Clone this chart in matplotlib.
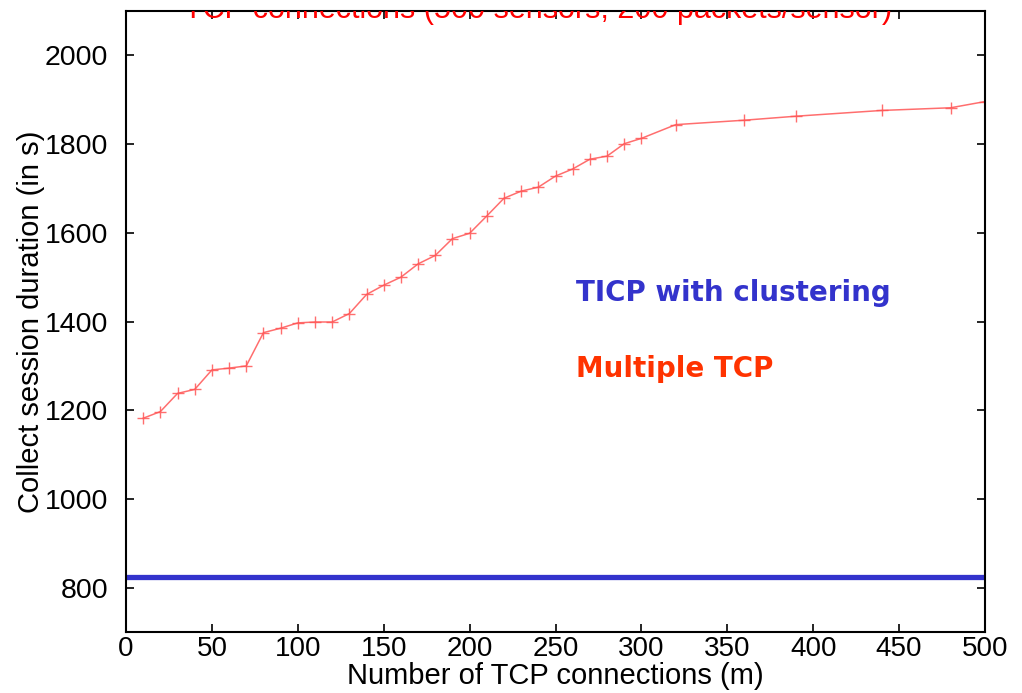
import matplotlib
matplotlib.use("Agg")
import matplotlib.pyplot as plt

# data
connections = [10, 20, 30, 40, 50, 60, 70, 80, 90, 100, 110, 120, 130, 140, 150,
               160, 170, 180, 190, 200, 210, 220, 230, 240, 250, 260, 270, 280,
               290, 300, 320, 360, 390, 440, 480, 500]
multiple_tcp = [1182, 1197, 1238, 1247, 1291, 1295, 1300, 1375, 1385, 1397, 1399,
                1399, 1418, 1461, 1482, 1500, 1530, 1549, 1587, 1599, 1638, 1678,
                1694, 1703, 1728, 1744, 1766, 1773, 1801, 1813, 1844, 1854, 1863,
                1876, 1882, 1896]
ticp_clustering = 825

xticks = list(range(0, 501, 50))
yticks = list(range(800, 2001, 200))

fig = plt.figure(figsize=(10.22, 6.93), dpi=100)
ax = fig.add_axes([0.1233, 0.088, 0.8405, 0.896])

ax.plot(connections, multiple_tcp, color="#ff5555", lw=1.1, marker="+",
        markersize=8, markeredgewidth=1.0, alpha=0.85)
ax.axhline(ticp_clustering, color="#3333cc", lw=3.8)

ax.set_xlim(0, 500)
ax.set_ylim(700, 2100)
ax.set_xticks(xticks)
ax.set_yticks(yticks)
ax.set_xticklabels([str(v) for v in xticks], fontfamily="Liberation Sans", fontsize=20)
ax.set_yticklabels([str(v) for v in yticks], fontfamily="Liberation Sans", fontsize=20.5)
ax.tick_params(direction="in", length=6, width=1.2, top=True, right=True)
ax.tick_params(axis="x", pad=3)
ax.tick_params(axis="y", pad=13)
for s in ax.spines.values():
    s.set_linewidth(1.5)

ax.set_xlabel("Number of TCP connections (m)", fontfamily="Liberation Sans",
              fontsize=21, labelpad=0)
ax.set_ylabel("Collect session duration (in s)", fontfamily="Liberation Sans",
              fontsize=21, labelpad=0)

# title hidden behind the top of the plot, only its lower edge shows
ax.text(0.48, 0.9885, "TCP connections (500 sensors, 200 packets/sensor)",
        transform=ax.transAxes, ha="center", va="baseline", color="red",
        fontfamily="Liberation Sans", fontsize=22, clip_on=True)

ax.text(262, 1465, "TICP with clustering", color="#3333cc",
        fontsize=20, fontweight="bold", va="center", ha="left")
ax.text(262, 1294, "Multiple TCP", color="#ff3300",
        fontsize=20, fontweight="bold", va="center", ha="left")

fig.savefig("out.png", dpi=100)
